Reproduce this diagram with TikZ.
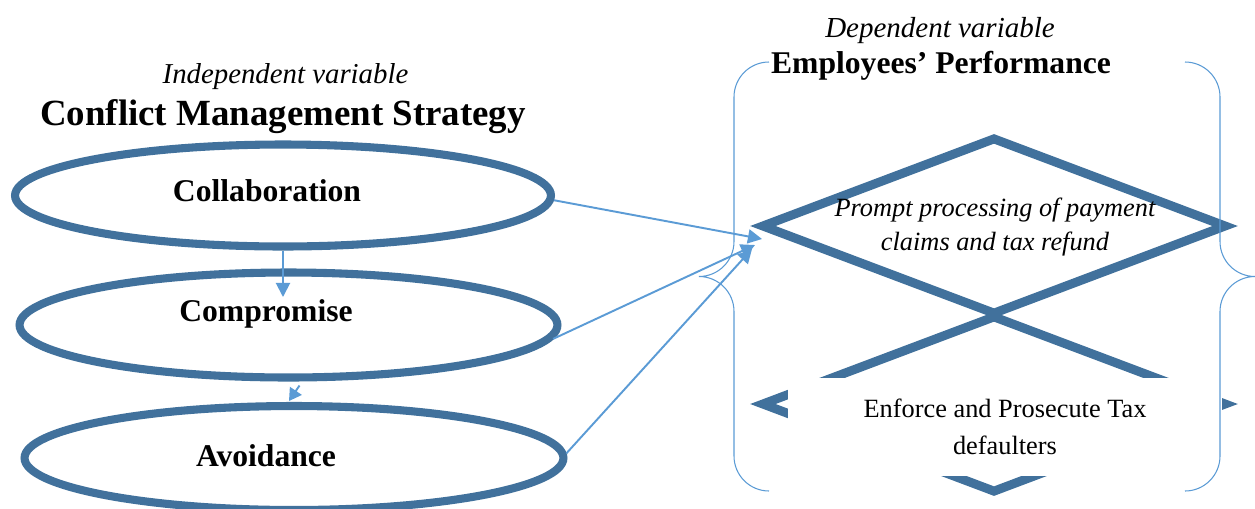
\documentclass[tikz,border=0pt]{standalone}
\usepackage{fontspec}
\setmainfont{Liberation Serif}
\usetikzlibrary{shapes.geometric, arrows.meta, positioning, calc}
\definecolor{shapeblue}{RGB}{65,113,156}
\definecolor{linkblue}{RGB}{91,155,213}

\begin{document}
\begin{tikzpicture}[x=0.02cm, y=-0.02cm,
    oval/.style={ellipse, draw=shapeblue, line width=4.6pt, inner sep=0pt},
    rhomb/.style={diamond, draw=shapeblue, line width=5.1pt, inner sep=0pt,
        minimum width=9.32cm, minimum height=3.56cm},
    ovaltext/.style={font=\fontsize{18}{21}\selectfont\bfseries, anchor=base},
    link/.style={draw=linkblue, line width=1.1pt, -{Triangle[length=8pt, width=8pt]}},
    brace/.style={draw=linkblue, line width=0.6pt}]
\useasboundingbox (0,0) rectangle (1255,508);

% Independent variable side
\node[font=\fontsize{16.4}{20}\selectfont\itshape, anchor=base] (indeplabel) at (285.5,83) {Independent variable};
\node[font=\fontsize{21}{25}\selectfont\bfseries, anchor=base] (indeptitle) at (283,125) {Conflict Management Strategy};

\node[oval, minimum width=10.72cm, minimum height=2.04cm] (collab) at (283,195.5) {};
\node[ovaltext] (collabtext) at (267,201.5) {Collaboration};
\node[oval, minimum width=10.76cm, minimum height=2.1cm] (comp) at (288.5,325) {};
\node[ovaltext] (comptext) at (266,321.5) {Compromise};
\node[oval, minimum width=10.78cm, minimum height=2.08cm] (avoid) at (294,458) {};
\node[ovaltext] (avoidtext) at (266,466.5) {Avoidance};

% Dependent variable side
\node[font=\fontsize{16.5}{20}\selectfont\itshape, anchor=base] (deplabel) at (940,37) {Dependent variable};
\node[font=\fontsize{18}{22}\selectfont\bfseries, anchor=base] (deptitle) at (941,73) {Employees' Performance};

\node[rhomb] (promptshape) at (994,226) {};
\node[font=\fontsize{15}{19.3}\selectfont\itshape, align=center] (prompt) at (995,227)
    {Prompt processing of payment\\claims and tax refund};
\node[rhomb] (enforceshape) at (994,404) {};
\node[fill=white, inner sep=0pt, minimum width=8.68cm, minimum height=1.96cm,
    font=\fontsize{15}{21}\selectfont, align=center] (enforce) at (1005,427)
    {Enforce and Prosecute Tax\\defaulters};

% Arrows
\coordinate (comptip) at (283,297);
\coordinate (avoidtip) at (289,401);
\coordinate (hub1) at (762,239);
\coordinate (hub2) at (755,245);
\coordinate (hub3) at (752,249);
\draw[link] (collab.south) -- (comptip);
\draw[link, -{Triangle[length=7pt, width=8pt]}] ([shift={(11,4)}]comp.south) -- (avoidtip);
\draw[link] (collab.-1) -- (hub1);
\draw[link] (comp.-3) -- (hub2);
\draw[link] (avoid.1) -- (hub3);

% Brace pair
\draw[brace] (769,62) .. controls (749.7,62) and (734,77.7) .. (734,97) -- (734,241.5)
    .. controls (734,260.8) and (718.3,276.5) .. (699,276.5)
    .. controls (718.3,276.5) and (734,292.2) .. (734,311.5) -- (734,456)
    .. controls (734,475.3) and (749.7,491) .. (769,491);
\draw[brace] (1185,62) .. controls (1204.3,62) and (1220,77.7) .. (1220,97) -- (1220,241.5)
    .. controls (1220,260.8) and (1235.7,276.5) .. (1255,276.5)
    .. controls (1235.7,276.5) and (1220,292.2) .. (1220,311.5) -- (1220,456)
    .. controls (1220,475.3) and (1204.3,491) .. (1185,491);
\end{tikzpicture}
\end{document}
